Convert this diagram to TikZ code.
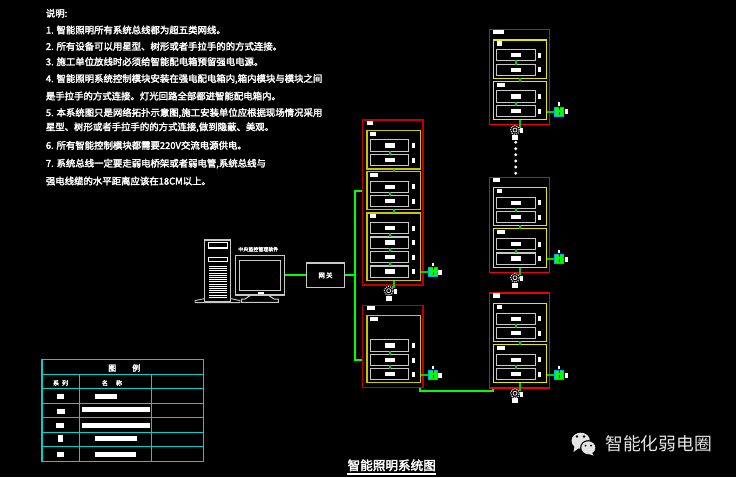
\documentclass[tikz,border=0pt]{standalone}
\usepackage{fontspec}
\usepackage{xcolor}
\usetikzlibrary{positioning, arrows}
\newfontfamily\cjk[FakeBold=2.6]{Noto Sans CJK SC}
\newfontfamily\cjkplain{Noto Sans CJK SC}

\definecolor{darkred}{HTML}{C00000}
\definecolor{brightred}{HTML}{F00000}
\definecolor{darkyellow}{HTML}{C8C800}
\definecolor{brightyellow}{HTML}{E8E800}
\definecolor{legendcyan}{HTML}{00D0D0}
\definecolor{busgreen}{HTML}{00FF00}
\definecolor{linkgreen}{HTML}{00D000}
\definecolor{markgray}{HTML}{E4E4E4}
\definecolor{framegray}{HTML}{C8C8C8}

\tikzset{
    tagblock/.style={fill=white, inner sep=0pt, minimum height=4.5pt},
    redbox/.style={draw=brightred, line width=1.5pt, inner sep=0pt, minimum width=60pt, minimum height=95pt},
    yellowbox/.style={draw=brightyellow, line width=1.4pt, inner sep=0pt, minimum width=53.4pt},
    modulebox/.style={draw=framegray, line width=1.1pt, inner sep=0pt, minimum width=38.4pt, minimum height=11.3pt},
    sensorbox/.style={draw=cyan, fill=busgreen, line width=1pt, inner sep=0pt, minimum size=8.8pt},
    lampnode/.style={draw=markgray, circle, line width=1.1pt, densely dotted, inner sep=0pt, minimum size=8.8pt},
    greenlink/.style={draw=linkgreen, line width=2pt},
    busline/.style={draw=busgreen, line width=2pt},
    note/.style={white, anchor=west, inner sep=0pt, font=\cjk\fontsize{9.4}{11}\selectfont}
}

\newcommand{\ctrlmodule}[3]{
    \node[modulebox] (#1) at (#2,#3) {};
    \node[tagblock, minimum width=10pt] (#1t) at (#1.center) {};
    \node[tagblock, minimum width=3.2pt, minimum height=5pt] (#1s) at ([xshift=23.8pt]#1.center) {};
}
\newcommand{\sensor}[3]{
    \node[sensorbox] (#1) at (#2,#3) {};
    \draw[black, line width=.4pt, densely dashed] (#1.north) -- (#1.south);
    \node[tagblock, minimum width=3.2pt, minimum height=5pt] (#1r) at ([xshift=7.2pt]#1.center) {};
    \node[tagblock, minimum width=2.2pt, minimum height=3.2pt] (#1u) at ([yshift=7.8pt]#1.center) {};
}
\newcommand{\lamp}[3]{
    \node[lampnode] (#1) at (#2,#3) {};
    \node[draw=markgray, circle, line width=.8pt, inner sep=0pt, minimum size=4pt] (#1i) at (#1.center) {};
    \node[tagblock, minimum width=3pt, minimum height=5pt] (#1r) at ([xshift=6.6pt,yshift=-.8pt]#1.center) {};
    \node[tagblock, minimum width=6pt, minimum height=5pt] (#1d) at ([yshift=-7.4pt]#1.center) {};
}

\begin{document}
\begin{tikzpicture}[x=1pt, y=-1pt]

\useasboundingbox (0,0) rectangle (736,477);
\fill[black] (0,0) rectangle (736,477);

\node[note] (N0) at (45.7,13.3) {说明:};
\node[note] (N1) at (45.7,30) {1. 智能照明所有系统总线都为超五类网线。};
\node[note] (N2) at (45.7,46.3) {2. 所有设备可以用星型、树形或者手拉手的的方式连接。};
\node[note] (N3) at (45.7,61.7) {3. 施工单位放线时必须给智能配电箱预留强电电源。};
\node[note] (N4) at (45.7,79) {4. 智能照明系统控制模块安装在强电配电箱内,箱内模块与模块之间};
\node[note] (N5) at (45.7,96) {是手拉手的方式连接。灯光回路全部都进智能配电箱内。};
\node[note] (N6) at (45.7,113) {5. 本系统图只是网络拓扑示意图,施工安装单位应根据现场情况采用};
\node[note] (N7) at (45.7,127.3) {星型、树形或者手拉手的的方式连接,做到隐蔽、美观。};
\node[note] (N8) at (45.7,145.3) {6. 所有智能控制模块都需要220V交流电源供电。};
\node[note] (N9) at (45.7,163.7) {7. 系统总线一定要走弱电桥架或者弱电管,系统总线与};
\node[note] (N10) at (45.7,181) {强电线缆的水平距离应该在18CM以上。};

\node[redbox, draw=darkred, minimum width=60.3pt, minimum height=165pt] (RA) at (392.85,202.5) {};
\node[tagblock, minimum width=6pt] (RAt) at (370,123) {};
\node[yellowbox, draw=darkyellow, minimum height=38.7pt] (YA1) at (393.65,149.65) {};
\node[tagblock, minimum width=6pt] (YA1t) at (373,134) {};
\node[yellowbox, draw=darkyellow, minimum height=38.4pt] (YA2) at (393.65,190.5) {};
\node[tagblock, minimum width=8pt] (YA2t) at (374,175) {};
\node[yellowbox, draw=darkyellow, minimum height=67.3pt] (YA3) at (393.65,246.65) {};
\node[tagblock, minimum width=6pt] (YA3t) at (373,216) {};
\ctrlmodule{A1}{389.5}{145.5}
\ctrlmodule{A2}{389.5}{160}
\ctrlmodule{A3}{389.5}{186.8}
\ctrlmodule{A4}{389.5}{201.1}
\ctrlmodule{A5}{389.5}{228}
\ctrlmodule{A6}{389.5}{242.6}
\ctrlmodule{A7}{389.5}{257}
\ctrlmodule{A8}{389.5}{271.6}
\sensor{SA}{432.7}{272.3}
\lamp{LA}{388.7}{290.7}

\node[redbox, draw=darkred, minimum width=60.3pt, minimum height=82.4pt] (RB) at (392.85,346.5) {};
\node[tagblock, minimum width=8pt] (RBt) at (371,308) {};
\node[yellowbox, draw=darkyellow, minimum height=67.4pt] (YB) at (393.65,349) {};
\node[tagblock, minimum width=8pt] (YBt) at (374,319) {};
\ctrlmodule{B1}{389.5}{345.4}
\ctrlmodule{B2}{389.5}{360}
\ctrlmodule{B3}{389.5}{374.2}
\sensor{SB}{432.7}{375.3}

\node[redbox] (RC) at (519.3,340.35) {};
\node[tagblock, minimum width=7pt] (RCt) at (496.5,295.5) {};
\node[yellowbox, minimum height=38pt] (YC1) at (520,322.3) {};
\node[tagblock, minimum width=5pt] (YC1t) at (499.3,307) {};
\node[yellowbox, minimum height=38.4pt] (YC2) at (520,363.5) {};
\node[tagblock, minimum width=8pt] (YC2t) at (501,348) {};
\ctrlmodule{C1}{516}{318.8}
\ctrlmodule{C2}{516}{333}
\ctrlmodule{C3}{516}{359.8}
\ctrlmodule{C4}{516}{374.2}
\sensor{SC}{559}{375}
\lamp{LC}{515}{393.3}

\node[redbox] (RD) at (519.3,224.8) {};
\node[tagblock, minimum width=7pt] (RDt) at (496.5,180) {};
\node[yellowbox, minimum height=38.4pt] (YD1) at (520,206.5) {};
\node[tagblock, minimum width=5pt] (YD1t) at (499.3,191) {};
\node[yellowbox, minimum height=38.6pt] (YD2) at (520,248) {};
\node[tagblock, minimum width=8pt] (YD2t) at (501,232) {};
\ctrlmodule{D1}{516}{202.8}
\ctrlmodule{D2}{516}{217.2}
\ctrlmodule{D3}{516}{244}
\ctrlmodule{D4}{516}{258.6}
\sensor{SD}{559}{259.3}
\lamp{LD}{515}{277.7}

\node[redbox] (RE) at (519.3,77) {};
\node[tagblock, minimum width=11pt] (REt) at (498.5,32) {};
\node[yellowbox, minimum height=38.7pt] (YE1) at (520,59.35) {};
\node[tagblock, minimum width=5pt] (YE1t) at (499.3,43.3) {};
\node[yellowbox, minimum height=38pt] (YE2) at (520,100.3) {};
\node[tagblock, minimum width=8pt] (YE2t) at (501,85) {};
\ctrlmodule{E1}{516}{55.2}
\ctrlmodule{E2}{516}{69.8}
\ctrlmodule{E3}{516}{96.5}
\ctrlmodule{E4}{516}{111}
\sensor{SE}{559}{111.7}
\lamp{LE}{515}{130}

\path[greenlink, shorten >=-1pt, shorten <=-1pt]
(A1) edge (A2)
(A3) edge (A4)
(A5) edge (A6)
(A6) edge (A7)
(A7) edge (A8)
(B1) edge (B2)
(B2) edge (B3)
(C1) edge (C2)
(C3) edge (C4)
(D1) edge (D2)
(D3) edge (D4)
(E1) edge (E2)
(E3) edge (E4)

(YA1) edge (YA2)
(YA2) edge (YA3)
(YC1) edge (YC2)
(YD1) edge (YD2)
(YE1) edge (YE2);

\draw[greenlink] (YA3.south) |- (LA.45);
\draw[greenlink] (YC2.south) |- (LC.45);
\draw[greenlink] (YD2.south) |- (LD.45);
\draw[greenlink] (YE2.south) |- (LE.45);
\draw[greenlink] (YA3.east |- SA) -- (SA);
\draw[greenlink] (YB.east |- SB) -- (SB);
\draw[greenlink] (YC2.east |- SC) -- (SC);
\draw[greenlink] (YD2.east |- SD) -- (SD);
\draw[greenlink] (YE2.east |- SE) -- (SE);

\node[fill=white, circle, inner sep=0pt, minimum size=3.2pt] (P1) at (515.7,142.3) {};
\node[fill=white, circle, inner sep=0pt, minimum size=3.2pt] (P2) at (515.7,148.7) {};
\node[fill=white, circle, inner sep=0pt, minimum size=3.2pt] (P3) at (515.7,154.7) {};
\node[fill=white, circle, inner sep=0pt, minimum size=3.2pt] (P4) at (515.7,161) {};
\node[fill=white, circle, inner sep=0pt, minimum size=3.2pt] (P5) at (515.7,167) {};
\node[fill=white, circle, inner sep=0pt, minimum size=3.2pt] (P6) at (515.7,173.3) {};

\node[draw=framegray, line width=1.3pt, inner sep=0pt, minimum width=26pt, minimum height=62pt] (TW) at (217.7,271) {};
\draw[framegray, line width=.9pt] (195,302.6) -- (195,300.6) -- (204.7,298.6) (230.7,298.6) -- (240,300.6) -- (240,302.6) -- (195,302.6);
\draw[white, line width=.9pt] (208,242) rectangle (227.5,247) (208,248.5) -- (227.5,248.5) (208,257) rectangle (227.5,261);
\draw[white, line width=18pt, dash pattern=on 1pt off 1.2pt] (218,266) -- (218,298);

\node[draw=framegray, line width=1.3pt, inner sep=0pt, minimum width=49pt, minimum height=39.3pt] (PC) at (259.8,275.35) {};
\node[draw=framegray, line width=1.3pt, inner sep=0pt, minimum width=40.6pt, minimum height=30.4pt] (PCi) at (260,275.5) {};
\draw[framegray, line width=1pt] (251,295) -- (245,299) -- (241.7,299) -- (241.7,302.3) -- (278.3,302.3) -- (278.3,299) -- (274,299) -- (268,295);
\node[tagblock, minimum width=6pt, minimum height=2.4pt] (PCb) at (260.5,292.8) {};
\node[white, inner sep=0pt, font=\cjk\fontsize{5}{6}\selectfont] (PCn) at (258.3,249.3) {中央监控管理软件};

\node[draw=framegray, line width=1.3pt, inner sep=0pt, minimum width=37.6pt, minimum height=24.7pt, text=white, font=\cjk\fontsize{6.5}{8}\selectfont] (GW) at (325.5,275.35) {网\,关};

\coordinate (busT) at (355,190.7);
\coordinate (busB) at (355,360.3);

\draw[busline] (RA.west |- busT) -- (busT) -- (busB) -- (RB.west |- busB);
\draw[busline] (PC.east) -- (GW.west);
\draw[busline] (GW.east) -- (GW.east -| busT);
\coordinate (trunkL) at (419.5,391);
\draw[busline] (RB.south -| trunkL) -- (trunkL) -| (RC.south west -| 493,0);

\draw[legendcyan, line width=1.5pt] (42,359.7) rectangle (203.3,461.7);
\draw[legendcyan, line width=1.3pt]
(42,374.3) -- (203.3,374.3)
(42,388.7) -- (203.3,388.7)
(42,403.7) -- (203.3,403.7)
(42,417.7) -- (203.3,417.7)
(42,432.7) -- (203.3,432.7)
(42,446.7) -- (203.3,446.7)
(79.7,374.3) -- (79.7,461.7)
(151.3,374.3) -- (151.3,461.7);

\node[white, inner sep=0pt, font=\cjk\fontsize{8}{10}\selectfont] (LGh) at (124.3,368) {图\hspace{16pt}例};
\node[white, inner sep=0pt, font=\cjk\fontsize{6}{8}\selectfont] (LGa) at (60.5,383) {系\hspace{3pt}列};
\node[white, inner sep=0pt, font=\cjk\fontsize{6}{8}\selectfont] (LGb) at (112,383) {名\hspace{8pt}称};
\node[tagblock, minimum width=7pt, minimum height=5pt] (LG1) at (60.7,396.3) {};
\node[tagblock, minimum width=21.7pt, minimum height=5pt] (LG1b) at (105.8,396.3) {};
\node[tagblock, minimum width=8pt, minimum height=5pt] (LG2) at (61,411) {};
\node[tagblock, minimum width=68pt, minimum height=5pt] (LG2b) at (116,409.5) {};
\node[tagblock, minimum width=8pt, minimum height=5pt] (LG3) at (60,425.5) {};
\node[tagblock, minimum width=68pt, minimum height=5pt] (LG3b) at (116,425.5) {};
\node[tagblock, minimum width=5pt, minimum height=7pt] (LG4) at (60.5,438.5) {};
\node[tagblock, minimum width=42pt, minimum height=5pt] (LG4b) at (116,438.5) {};
\node[tagblock, minimum width=7pt, minimum height=5pt] (LG5) at (60.7,454) {};
\node[tagblock, minimum width=41pt, minimum height=5pt] (LG5b) at (115.5,454) {};

\node[white, inner sep=0pt, font=\cjk\fontsize{12.6}{14}\selectfont] (TT) at (391.7,465.3) {智能照明系统图};
\draw[white, line width=1.6pt] (347.3,474) -- (436,474);

\fill[markgray] (580.7,440.7) ellipse (9.2pt and 8pt);
\fill[markgray] (574.5,446) -- (573.5,452) -- (579,448) -- cycle;
\fill[black] (588.3,447.7) ellipse (8.2pt and 7.6pt);
\fill[markgray] (588.3,447.7) ellipse (7pt and 6.4pt);
\fill[markgray] (591.5,452) -- (593.5,455.5) -- (587,453.5) -- cycle;
\fill[black] (577,436.5) circle (1.3pt) (584,436.5) circle (1.3pt) (585.5,445.5) circle (1pt) (591,445.5) circle (1pt);
\node[markgray, inner sep=0pt, anchor=west, font=\cjkplain\fontsize{17.8}{20}\selectfont] (WM) at (605,443.3) {智能化弱电圈};

\end{tikzpicture}
\end{document}
